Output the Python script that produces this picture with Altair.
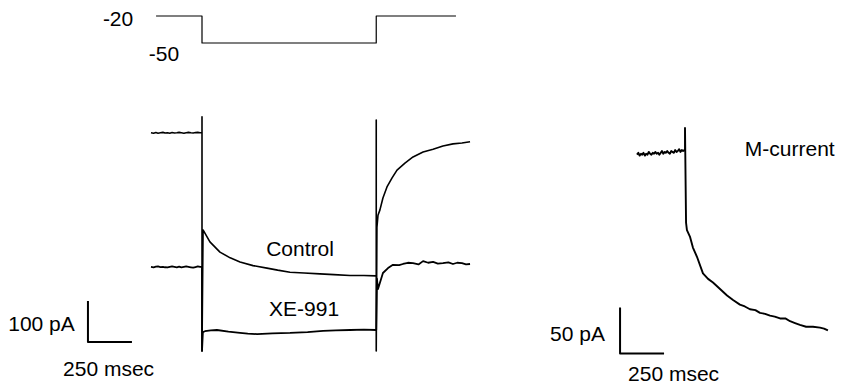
import altair as alt
import pandas as pd

# ---------------- data (time in ms, current in pA, voltage in mV) ----------------
# voltage protocol
VOLT_T = [-261, 0, 0, 990, 990, 1443]
VOLT_MV = [-20, -20, -50, -50, -20, -20]

# Control current trace
CTRL_T = [-290, -275, -262, -250, -236, -222, -210, -196, -183, -170, -157, -143, -130, -117, -103,
          -90, -77, -63, -50, -37, -24, -11, -2,
          0, 0, 0,
          6, 45, 102, 160, 216, 290, 369, 430, 500, 580, 670, 750, 841, 920, 988,
          990, 990, 990,
          994, 1000, 1011, 1028, 1051, 1080, 1108, 1153, 1199, 1256, 1313, 1369, 1426, 1477, 1523]
CTRL_PA = [481, 480, 481.5, 480, 481, 482, 480.5, 481, 480, 481.5, 480.5, 481, 482, 481, 480,
           481, 482, 481, 480.5, 481.5, 482, 481, 481,
           481, 520, -51,
           244, 215, 190, 176, 166, 157, 151, 146, 141, 139, 137, 135, 133, 133, 132,
           132, 512, -51,
           251, 280, 293, 322, 349, 371, 390, 407, 422, 434, 441, 449, 454, 456, 459]

# XE-991 current trace
XE_T = [-290, -275, -262, -250, -236, -222, -210, -196, -183, -170, -157, -143, -130, -117, -103,
        -90, -77, -63, -50, -37, -24, -11, -2,
        0, 0,
        5, 17, 50, 85, 150, 216, 260, 313, 400, 500, 600, 688, 760, 841, 920, 988,
        990, 994, 1000, 1011, 1028, 1057, 1085, 1120, 1142, 1170, 1199, 1230, 1256, 1285, 1313, 1340,
        1369, 1400, 1426, 1450, 1477, 1500, 1523]
XE_PA = [154, 153, 154.5, 155, 153.5, 154, 153, 152.5, 154, 155, 154, 153, 154.5, 153, 154,
         155, 154, 153, 152, 153.5, 155, 154, 154,
         154, -51,
         -5, -3, -1, 0, -4, -7, -9, -10, -8, -7, -5, -2, -1, 0, 1, 0,
         0, 125, 100, 115, 139, 151, 159, 158, 161, 164, 163, 160, 168, 164, 166, 162,
         163, 165, 161, 164, 163, 160, 161]

# M-current (difference) trace
M_T = [-273, -265, -258, -250, -243, -236, -228, -221, -213, -206, -198, -191, -183, -176, -168, -161,
       -153, -146, -138, -131, -123, -116, -108, -101, -93, -86, -78, -71, -63, -56, -48, -41, -33, -26,
       -18, -11, -3,
       0, 0,
       6, 11, 28, 45, 68, 102, 131, 159, 199, 239, 273, 312, 340, 369, 400, 426, 455, 483, 510, 540, 570, 597,
       625, 653, 688, 727, 767, 790, 812]
M_PA = [196, 198, 195, 197, 196, 198, 195, 197, 196, 199, 197, 196, 198, 197, 199, 197,
        198, 196, 198, 200, 197, 199, 198, 200, 198, 197, 200, 199, 198, 201, 199, 200, 202, 199,
        201, 200, 201,
        201, 225,
        122, 114, 107, 95, 85, 67, 61, 57, 50, 43, 38, 33, 31, 28, 27, 24, 23, 21, 20, 18, 18, 15,
        13, 11, 9, 9, 8, 7, 5]

# scale bars
LBAR_T = [-648, -648, -398]
LBAR_PA = [71, -29, -29]
RBAR_T = [-369, -369, -119]
RBAR_PA = [30, -20, -20]

# labels
VOLT_LABELS = ["-20", "-50"]
VOLT_LABEL_T = [-477, -216]
VOLT_LABEL_MV = [-23.9, -62.8]

LEFT_LABELS = ["Control", "XE-991", "100 pA", "250 msec"]
LEFT_LABEL_T = [557, 580, -912, -531]
LEFT_LABEL_PA = [195, 49, 12, -98]

RIGHT_LABELS = ["M-current", "50 pA", "250 msec"]
RIGHT_LABEL_T = [595, -611, -65]
RIGHT_LABEL_PA = [201, 0, -43]

# ---------------- layout ----------------
W, H, M = 828, 373, 8
PX_PER_MS = 0.176
FONT = "Liberation Sans"
FS = 21


def xdom(x0):
    return [(M - x0) / PX_PER_MS, (M + W - x0) / PX_PER_MS]


def ydom(y0, k):
    return [(y0 - (M + H)) / k, (y0 - M) / k]


PANELS = {
    "volt": (xdom(202), ydom(-2, 0.9)),
    "left": (xdom(202), ydom(330, 0.41)),
    "right": (xdom(685), ydom(335, 0.92)),
}


def enc(panel):
    xd, yd = PANELS[panel]
    return dict(
        x=alt.X("t:Q", scale=alt.Scale(domain=xd, nice=False, zero=False), axis=None),
        y=alt.Y("v:Q", scale=alt.Scale(domain=yd, nice=False, zero=False), axis=None),
    )


def line_df(ts, vs, name):
    return pd.DataFrame({"t": ts, "v": vs, "i": list(range(len(ts))), "s": name})


def trace(df, panel, width=1.4):
    return alt.Chart(df).mark_line(color="black", strokeWidth=width, strokeJoin="round").encode(
        order=alt.Order("i:Q"), detail="s:N", **enc(panel)
    )


def labels(names, ts, vs, panel):
    df = pd.DataFrame({"t": ts, "v": vs, "label": names})
    return alt.Chart(df).mark_text(
        font=FONT, fontSize=FS, color="black", align="center", baseline="middle"
    ).encode(text="label:N", **enc(panel))


layers = [
    trace(line_df(VOLT_T, VOLT_MV, "volt"), "volt", 1.2),
    labels(VOLT_LABELS, VOLT_LABEL_T, VOLT_LABEL_MV, "volt"),
    trace(line_df(CTRL_T, CTRL_PA, "Control"), "left", 1.6),
    trace(line_df(XE_T, XE_PA, "XE-991"), "left", 1.8),
    trace(line_df(LBAR_T, LBAR_PA, "bar"), "left", 2),
    labels(LEFT_LABELS, LEFT_LABEL_T, LEFT_LABEL_PA, "left"),
    trace(line_df(M_T, M_PA, "M"), "right", 1.9),
    trace(line_df(RBAR_T, RBAR_PA, "bar"), "right", 2),
    labels(RIGHT_LABELS, RIGHT_LABEL_T, RIGHT_LABEL_PA, "right"),
]

chart = (
    alt.layer(*layers)
    .resolve_scale(x="independent", y="independent")
    .properties(width=W, height=H, padding=0, background="white")
    .configure_view(stroke=None)
)

chart.save("out.html", embed_options={"renderer": "svg", "actions": False})
